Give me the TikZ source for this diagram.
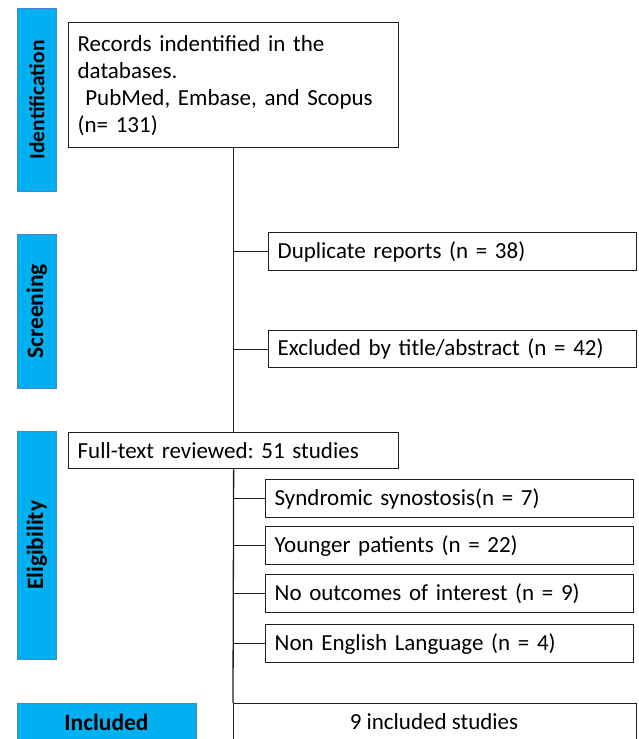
\documentclass[tikz,border=0pt]{standalone}
\usepackage{fontspec}
\setmainfont{Carlito}
\frenchspacing
\definecolor{barblue}{RGB}{0,176,240}
\definecolor{baredge}{RGB}{80,130,200}
\definecolor{lineblk}{RGB}{30,30,30}
\begin{document}
\begin{tikzpicture}[x=1pt,y=-1pt,
  stage/.style={draw=baredge,line width=0.8pt,fill=barblue,anchor=north west,inner sep=0pt},
  stagetext/.style={font=\fontsize{23.5}{27}\selectfont\bfseries},
  box/.style={draw=lineblk,line width=1.3pt,anchor=north west,inner xsep=9pt,inner ysep=0pt,
    font=\fontsize{23}{27}\selectfont,align=left},
  link/.style={draw=lineblk,line width=1.3pt}
]
\useasboundingbox (0,0) rectangle (638,739);
% stage bars
\node[stage,minimum width=39pt,minimum height=183pt] (sid) at (17,8) {};
\node[stagetext,rotate=90,font=\fontsize{21.5}{25}\selectfont\bfseries] (tid) at (sid.center) {Identification};
\node[stage,minimum width=39pt,minimum height=154pt] (ssc) at (17,234) {};
\node[stagetext,rotate=90] (tsc) at (ssc.center) {Screening};
\node[stage,minimum width=39pt,minimum height=228pt] (sel) at (17,431) {};
\node[stagetext,rotate=90] (tel) at (sel.center) {Eligibility};
\node[stage,minimum width=179pt,minimum height=45pt] (sin) at (17,703) {};
\node[stagetext] (tin) at (106.5,722) {Included};
% boxes
\node[box,minimum width=330pt,minimum height=125pt,text width=312pt] (rec) at (68,22)
  {Records indentified in the\\databases.\\\ PubMed, Embase, and Scopus\\(n= 131)};
\node[box,minimum width=368pt,minimum height=38pt,text width=350pt] (dup) at (268,232)
  {Duplicate reports (n = 38)};
\node[box,minimum width=368pt,minimum height=37pt,text width=350pt] (exc) at (268,330)
  {Excluded by title/abstract (n = 42)};
\node[box,minimum width=330pt,minimum height=36pt,text width=312pt] (ful) at (68,432)
  {Full-text reviewed: 51 studies};
\node[box,minimum width=368pt,minimum height=38pt,text width=350pt,inner xsep=8pt] (syn) at (265,479)
  {Syndromic synostosis(n = 7)};
\node[box,minimum width=368pt,minimum height=38pt,text width=350pt,inner xsep=8pt] (you) at (265,526)
  {Younger patients (n = 22)};
\node[box,minimum width=368pt,minimum height=38pt,text width=350pt,inner xsep=8pt] (noo) at (265,574)
  {No outcomes of interest (n = 9)};
\node[box,minimum width=368pt,minimum height=38pt,text width=350pt,inner xsep=8pt] (non) at (265,624)
  {Non English Language (n = 4)};
\node[draw=lineblk,line width=1.3pt,anchor=north west,minimum width=403pt,minimum height=50pt,inner sep=0pt] (inc) at (233,703) {};
\node[font=\fontsize{23}{27}\selectfont] (tinc) at (434,722) {9 included studies};
% connectors
\draw[link] (rec.south) -- (ful.north);
\draw[link] (ful.south) -- (inc.north west);
\draw[link] (dup.west -| rec.south) -- (dup.west);
\draw[link] (exc.west -| rec.south) -- (exc.west);
\draw[link] (syn.west -| ful.south) -- (syn.west);
\draw[link] (you.west -| ful.south) -- (you.west);
\draw[link] (noo.west -| ful.south) -- (noo.west);
\draw[link] (non.west -| ful.south) -- (non.west);
\end{tikzpicture}
\end{document}
